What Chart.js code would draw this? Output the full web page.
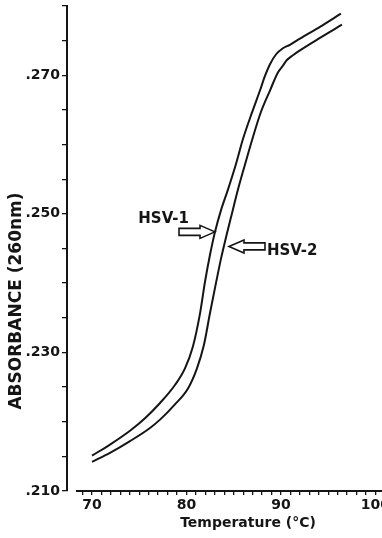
<!DOCTYPE html>
<html><head><meta charset="utf-8">
<script src="https://cdn.jsdelivr.net/npm/chart.js@4/dist/chart.umd.min.js"></script>
<style>html,body{margin:0;padding:0;background:#fff;overflow:hidden}canvas{display:block}</style>
</head><body>
<canvas id="c" width="382" height="538"></canvas>
<script>
// ---- data ----
const hsv1Temp = [70.00,71.90,74.02,75.61,77.20,78.78,79.84,80.69,81.43,81.96,82.49,83.02,83.65,84.39,85.24,85.98,86.93,87.78,88.31,88.84,89.47,90.21,90.95,92.01,94.13,96.35];
const hsv1Abs  = [0.2151,0.2167,0.2187,0.2205,0.2227,0.2253,0.2277,0.2309,0.2356,0.2402,0.2441,0.2474,0.2505,0.2535,0.2572,0.2608,0.2646,0.2678,0.2699,0.2716,0.2730,0.2739,0.2744,0.2753,0.2770,0.2789];
const hsv2Temp = [70.00,71.90,74.02,76.14,77.20,78.78,80.16,81.11,81.85,82.49,83.12,83.65,84.18,84.82,85.45,86.19,87.04,87.88,88.84,89.68,90.21,90.63,91.27,92.01,94.13,96.46];
const hsv2Abs  = [0.2142,0.2155,0.2172,0.2191,0.2203,0.2225,0.2248,0.2277,0.2311,0.2357,0.2400,0.2435,0.2466,0.2501,0.2535,0.2571,0.2611,0.2647,0.2678,0.2704,0.2714,0.2722,0.2729,0.2736,0.2754,0.2773];
const seriesNames = ['HSV-1','HSV-2'];
const yLabelValues = [0.210,0.230,0.250,0.270];
const xLabelValues = [70,80,90,100];
const xTitle = 'Temperature (°C)';
const yTitle = 'ABSORBANCE (260nm)';
// annotation anchors in data units: arrow tips and label anchors
const arrowTipTemp = [83.02, 84.50];
const arrowTipAbs  = [0.2474, 0.2453];
const labelTemp = [74.90, 88.52];
const labelAbs  = [0.2492, 0.2446];

const INK = '#151515';
const FONT = '"DejaVu Sans", sans-serif';

function toPts(xs, ys){ return xs.map((x,i)=>({x:x, y:ys[i]})); }

function hollowArrow(ctx, tx, ty, dir){
  const headL = 15, headH = 6.5, bodyH = 3.5, len = 36;
  const hb = tx - dir*headL, tail = tx - dir*len;
  ctx.beginPath();
  ctx.moveTo(tx, ty);
  ctx.lineTo(hb, ty-headH);
  ctx.lineTo(hb, ty-bodyH);
  ctx.lineTo(tail, ty-bodyH);
  ctx.lineTo(tail, ty+bodyH);
  ctx.lineTo(hb, ty+bodyH);
  ctx.lineTo(hb, ty+headH);
  ctx.closePath();
  ctx.fillStyle = '#fff'; ctx.fill();
  ctx.strokeStyle = INK; ctx.lineWidth = 1.6; ctx.stroke();
}

const decor = {
  id: 'decor',
  afterDraw(chart){
    const ctx = chart.ctx, xs = chart.scales.x, ys = chart.scales.y, ca = chart.chartArea;
    ctx.save();
    ctx.strokeStyle = INK; ctx.lineWidth = 2;
    ctx.beginPath();
    ctx.moveTo(xs.getPixelForValue(68.3), ca.bottom);
    ctx.lineTo(ca.right, ca.bottom);
    ctx.stroke();
    hollowArrow(ctx, xs.getPixelForValue(arrowTipTemp[0]), ys.getPixelForValue(arrowTipAbs[0]), 1);
    hollowArrow(ctx, xs.getPixelForValue(arrowTipTemp[1]), ys.getPixelForValue(arrowTipAbs[1]), -1);
    ctx.fillStyle = INK;
    ctx.font = 'bold 15px ' + FONT;
    ctx.textBaseline = 'middle';
    ctx.textAlign = 'left';
    ctx.fillText(seriesNames[0], xs.getPixelForValue(labelTemp[0]), ys.getPixelForValue(labelAbs[0]));
    ctx.fillText(seriesNames[1], xs.getPixelForValue(labelTemp[1]), ys.getPixelForValue(labelAbs[1]));
    ctx.textAlign = 'center';
    ctx.font = 'bold 14px ' + FONT;
    ctx.fillText(xTitle, 248, 523);
    ctx.translate(17, 301);
    ctx.rotate(-Math.PI/2);
    ctx.font = 'bold 17px ' + FONT;
    ctx.fillText(yTitle, 0, 0);
    ctx.restore();
  }
};

new Chart(document.getElementById('c'), {
  type: 'line',
  data: {
    datasets: [
      { label: seriesNames[0], data: toPts(hsv1Temp, hsv1Abs), borderColor: INK, borderWidth: 2, pointRadius: 0, fill: false, cubicInterpolationMode: 'monotone' },
      { label: seriesNames[1], data: toPts(hsv2Temp, hsv2Abs), borderColor: INK, borderWidth: 2, pointRadius: 0, fill: false, cubicInterpolationMode: 'monotone' }
    ]
  },
  options: {
    responsive: false,
    animation: false,
    devicePixelRatio: 1,
    layout: { padding: { top: 6, left: 0, right: 0, bottom: 0 }, autoPadding: false },
    plugins: { legend: { display: false }, tooltip: { enabled: false } },
    scales: {
      x: {
        type: 'linear', min: 67.35, max: 100.7,
        border: { display: false },
        grid: { drawOnChartArea: false, drawTicks: true, tickLength: 4, color: INK, lineWidth: 1.3 },
        afterBuildTicks: s => { s.ticks = s.ticks.filter(t => t.value >= 69 && Number.isInteger(t.value)); },
        ticks: {
          stepSize: 1, includeBounds: false, autoSkip: false, maxRotation: 0, minRotation: 0, padding: 2,
          color: INK, font: { family: FONT, size: 14, weight: 'bold' },
          callback: v => xLabelValues.includes(v) ? String(v) : ''
        },
        afterFit: s => { s.height = 47; s.paddingLeft = 0; s.paddingRight = 0; }
      },
      y: {
        type: 'linear', min: 0.210, max: 0.280,
        border: { display: true, color: INK, width: 2 },
        grid: { drawOnChartArea: false, drawTicks: true, tickLength: 5, color: INK, lineWidth: 1.3 },
        ticks: {
          stepSize: 0.005, autoSkip: false, padding: 2,
          color: INK, font: { family: FONT, size: 14, weight: 'bold' },
          callback: v => yLabelValues.some(l => Math.abs(l - v) < 1e-6) ? v.toFixed(3).replace(/^0/, '') : ''
        },
        afterFit: s => { s.width = 67; s.paddingTop = 0; s.paddingBottom = 0; }
      }
    }
  },
  plugins: [decor]
});
</script>
</body></html>
